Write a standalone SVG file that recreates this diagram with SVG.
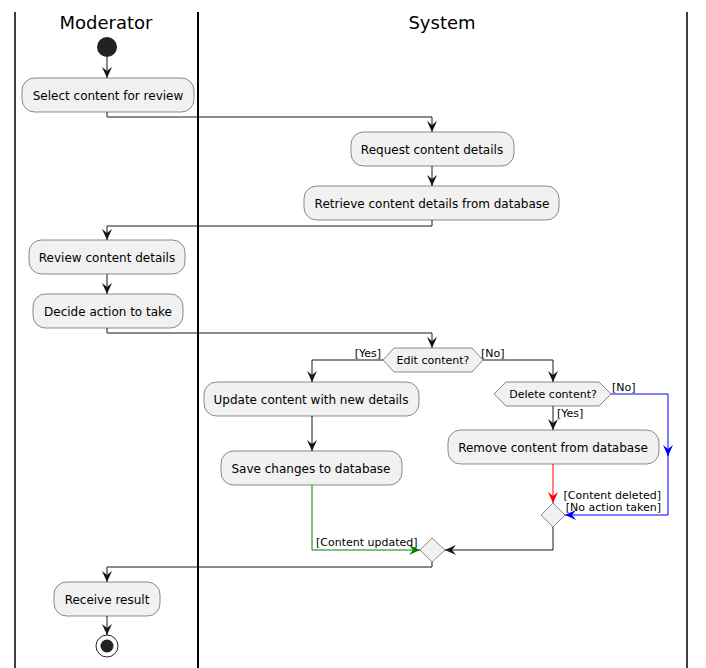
<svg xmlns="http://www.w3.org/2000/svg" width="706" height="668" viewBox="0 0 706 668">
<style>
.lane{stroke:#000;stroke-width:1.5;fill:none}
.title{font-family:"DejaVu Sans",sans-serif;font-size:18px;fill:#000;text-anchor:middle}
.box{fill:#F1F1F1;stroke:#181818;stroke-width:0.5}
.t{font-family:"DejaVu Sans",sans-serif;font-size:12px;fill:#000;text-anchor:middle}
.lbl{font-family:"DejaVu Sans",sans-serif;font-size:11px;fill:#000}
.c{fill:none;stroke:#181818;stroke-width:1}
</style>
<defs>
<marker id="ak" viewBox="0 0 11 10" refX="11" refY="5" markerWidth="11" markerHeight="10" markerUnits="userSpaceOnUse" orient="auto"><path d="M0,0 L11,5 L0,10 L4,5 Z" fill="#181818"/></marker>
<marker id="ag" viewBox="0 0 11 10" refX="11" refY="5" markerWidth="11" markerHeight="10" markerUnits="userSpaceOnUse" orient="auto"><path d="M0,0 L11,5 L0,10 L4,5 Z" fill="#008000"/></marker>
<marker id="ar" viewBox="0 0 11 10" refX="11" refY="5" markerWidth="11" markerHeight="10" markerUnits="userSpaceOnUse" orient="auto"><path d="M0,0 L11,5 L0,10 L4,5 Z" fill="#FF0000"/></marker>
<marker id="ab" viewBox="0 0 11 10" refX="11" refY="5" markerWidth="11" markerHeight="10" markerUnits="userSpaceOnUse" orient="auto"><path d="M0,0 L11,5 L0,10 L4,5 Z" fill="#0000FF"/></marker>
</defs>
<rect width="706" height="668" fill="#fff"/>
<g id="lanes">
<line class="lane" x1="15" y1="12" x2="15" y2="668"/>
<line class="lane" x1="198" y1="12" x2="198" y2="668" style="stroke-width:2"/>
<line class="lane" x1="687" y1="12" x2="687" y2="668"/>
<text class="title" x="106" y="29">Moderator</text>
<text class="title" x="442" y="29">System</text>
</g>
<g id="connectors">
<path class="c" d="M107,57 V78" marker-end="url(#ak)"/>
<path class="c" d="M107,112 V117 H432 V132" marker-end="url(#ak)"/>
<path class="c" d="M432,166 V186" marker-end="url(#ak)"/>
<path class="c" d="M432,220 V226 H107 V240" marker-end="url(#ak)"/>
<path class="c" d="M107,274 V294" marker-end="url(#ak)"/>
<path class="c" d="M107,328 V333 H432 V348" marker-end="url(#ak)"/>
<path class="c" d="M383,360 H312 V382" marker-end="url(#ak)"/>
<path class="c" d="M483,360 H553 V382" marker-end="url(#ak)"/>
<path class="c" d="M312,416 V451" marker-end="url(#ak)"/>
<path class="c" d="M553,406 V430" marker-end="url(#ak)"/>
<path class="c" d="M553,464 V503" style="stroke:#FF0000" marker-end="url(#ar)"/>
<path class="c" d="M611,394 H668 V456" style="stroke:#0000FF" marker-end="url(#ab)"/>
<path class="c" d="M668,450 V515 H565" style="stroke:#0000FF" marker-end="url(#ab)"/>
<path class="c" d="M312,485 V550 H420" style="stroke:#008000" marker-end="url(#ag)"/>
<path class="c" d="M553,527 V550 H445" marker-end="url(#ak)"/>
<path class="c" d="M432,562 V567 H107 V582" marker-end="url(#ak)"/>
<path class="c" d="M107,616 V635" marker-end="url(#ak)"/>
<text class="lbl" x="381" y="357" text-anchor="end">[Yes]</text>
<text class="lbl" x="481" y="357">[No]</text>
<text class="lbl" x="612" y="391">[No]</text>
<text class="lbl" x="557" y="417">[Yes]</text>
<text class="lbl" x="661" y="499" text-anchor="end">[Content deleted]</text>
<text class="lbl" x="661" y="511" text-anchor="end">[No action taken]</text>
<text class="lbl" x="316" y="546">[Content updated]</text>
</g>
<g id="start"><circle cx="107" cy="47" r="10" fill="#222"/></g>
<g id="select"><rect class="box" x="22" y="78" width="172" height="34" rx="12.5"/><text class="t" x="108" y="100">Select content for review</text></g>
<g id="request"><rect class="box" x="351" y="132" width="163" height="34" rx="12.5"/><text class="t" x="432" y="154">Request content details</text></g>
<g id="retrieve"><rect class="box" x="304" y="186" width="255" height="34" rx="12.5"/><text class="t" x="432" y="208">Retrieve content details from database</text></g>
<g id="review"><rect class="box" x="29" y="240" width="156" height="34" rx="12.5"/><text class="t" x="107" y="262">Review content details</text></g>
<g id="decide"><rect class="box" x="33" y="294" width="150" height="34" rx="12.5"/><text class="t" x="108" y="316">Decide action to take</text></g>
<g id="edit"><polygon class="box" points="383,360 394,348 472,348 483,360 472,372 394,372"/><text class="lbl" x="433" y="364" text-anchor="middle">Edit content?</text></g>
<g id="update"><rect class="box" x="204" y="382" width="215" height="34" rx="12.5"/><text class="t" x="311" y="404">Update content with new details</text></g>
<g id="save"><rect class="box" x="221" y="451" width="181" height="34" rx="12.5"/><text class="t" x="311" y="473">Save changes to database</text></g>
<g id="delete"><polygon class="box" points="494,394 506,382 599,382 611,394 599,406 506,406"/><text class="lbl" x="553" y="398" text-anchor="middle">Delete content?</text></g>
<g id="remove"><rect class="box" x="448" y="430" width="211" height="34" rx="12.5"/><text class="t" x="553" y="452">Remove content from database</text></g>
<g id="merge1"><polygon class="box" points="553,503 565,515 553,527 541,515"/></g>
<g id="merge2"><polygon class="box" points="432,538 445,550 432,562 420,550"/></g>
<g id="receive"><rect class="box" x="54" y="582" width="106" height="34" rx="12.5"/><text class="t" x="107" y="604">Receive result</text></g>
<g id="end"><circle cx="107" cy="646" r="11" fill="none" stroke="#222" stroke-width="1"/><circle cx="107" cy="646" r="6.5" fill="#222"/></g>
</svg>
